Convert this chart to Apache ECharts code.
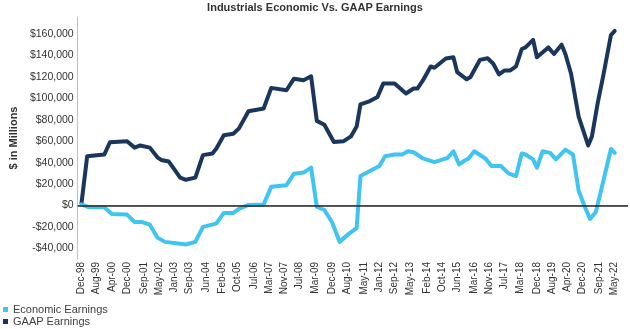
<!DOCTYPE html>
<html>
<head>
<meta charset="utf-8">
<script src="https://cdn.jsdelivr.net/npm/echarts@6/dist/echarts.min.js"></script>
<style>
  html, body { margin: 0; padding: 0; background: #fff; }
  #chart { width: 630px; height: 329px; }
</style>
</head>
<body>
<div id="chart"></div>
<script>
// Month range of the category axis (a little padding on both ends)
const axisStart = { year: 1998, month: 9 };   // Oct-98
const axisEnd = { year: 2022, month: 11 };    // Dec-22

// Labels shown along the x axis
const tickLabels = ['Dec-98', 'Aug-99', 'Apr-00', 'Dec-00', 'Sep-01', 'May-02', 'Jan-03', 'Sep-03',
  'Jun-04', 'Feb-05', 'Oct-05', 'Jul-06', 'Mar-07', 'Nov-07', 'Jul-08', 'Mar-09', 'Dec-09',
  'Aug-10', 'May-11', 'Jan-12', 'Sep-12', 'May-13', 'Feb-14', 'Oct-14', 'Jun-15', 'Mar-16',
  'Nov-16', 'Jul-17', 'Mar-18', 'Dec-18', 'Aug-19', 'Apr-20', 'Dec-20', 'Sep-21', 'May-22'];

// y-axis labels ($ in millions)
const yTicks = [-40000, -20000, 0, 20000, 40000, 60000, 80000, 100000, 120000, 140000, 160000];

// GAAP earnings ($M)
const gaapDates = ['Dec-98', 'Mar-99', 'Dec-99', 'Mar-00', 'Dec-00', 'Apr-01', 'Jul-01', 'Dec-01',
  'Apr-02', 'Jun-02', 'Oct-02', 'Dec-02', 'Apr-03', 'Jul-03', 'Dec-03', 'Apr-04', 'Sep-04',
  'Nov-04', 'Mar-05', 'Aug-05', 'Nov-05', 'Apr-06', 'Dec-06', 'Apr-07', 'Dec-07', 'Apr-08',
  'Sep-08', 'Jan-09', 'Apr-09', 'Aug-09', 'Jan-10', 'Jun-10', 'Oct-10', 'Jan-11', 'Mar-11',
  'Aug-11', 'Dec-11', 'Mar-12', 'Sep-12', 'Mar-13', 'Jul-13', 'Sep-13', 'Dec-13', 'Apr-14',
  'Jun-14', 'Dec-14', 'Apr-15', 'Jun-15', 'Nov-15', 'Jan-16', 'Jun-16', 'Oct-16', 'Jan-17',
  'Apr-17', 'Jul-17', 'Oct-17', 'Jan-18', 'Apr-18', 'Jun-18', 'Oct-18', 'Dec-18', 'Jun-19',
  'Sep-19', 'Jan-20', 'Mar-20', 'Jun-20', 'Oct-20', 'Mar-21', 'May-21', 'Aug-21', 'Nov-21',
  'Mar-22', 'May-22'];
const gaapValues = [2000, 46000, 47500, 59000, 60000, 54000, 56000, 54000,
  45000, 42500, 41000, 36000, 26000, 24000, 26000, 47000, 48500,
  53000, 65500, 67000, 72000, 88000, 90500, 109800, 107600, 118400,
  117000, 120600, 79000, 75300, 59300, 59900, 64500, 73700, 94400,
  97500, 101400, 113800, 113800, 104600, 109200, 109200, 117000, 129800,
  128600, 137200, 138400, 124500, 117800, 120000, 136000, 137500, 132300,
  122400, 126100, 126100, 129800, 146100, 147600, 154700, 138400, 147600,
  141500, 150100, 141500, 123000, 83000, 56000, 64500, 95300, 121500,
  159100, 163000];

// Economic earnings ($M)
const econDates = ['Dec-98', 'Apr-99', 'Dec-99', 'Apr-00', 'Dec-00', 'Apr-01', 'Aug-01', 'Dec-01',
  'Apr-02', 'Aug-02', 'Mar-03', 'Jul-03', 'Dec-03', 'Apr-04', 'Nov-04', 'Mar-05', 'Aug-05',
  'Nov-05', 'Apr-06', 'Dec-06', 'Apr-07', 'Dec-07', 'Apr-08', 'Sep-08', 'Jan-09', 'Apr-09',
  'Aug-09', 'Dec-09', 'Apr-10', 'Sep-10', 'Jan-11', 'Mar-11', 'Aug-11', 'Jan-12', 'Apr-12',
  'Sep-12', 'Jan-13', 'Apr-13', 'Jul-13', 'Dec-13', 'Jun-14', 'Jan-15', 'Apr-15', 'Jul-15',
  'Oct-15', 'Dec-15', 'Mar-16', 'Sep-16', 'Dec-16', 'May-17', 'Sep-17', 'Jan-18', 'Apr-18',
  'Jun-18', 'Oct-18', 'Dec-18', 'Mar-19', 'Jul-19', 'Oct-19', 'Mar-20', 'Jul-20', 'Oct-20',
  'Jan-21', 'Apr-21', 'Jul-21', 'Nov-21', 'Mar-22', 'May-22'];
const econValues = [1000, -1700, -1700, -8000, -8500, -15500, -15500, -18000,
  -30000, -34000, -35600, -36500, -34000, -20000, -17000, -7000, -7000,
  -3200, 500, 1000, 17400, 18900, 29700, 30700, 35300, -1100,
  -4200, -15500, -34000, -26300, -21100, 27500, 32100, 36800, 46000,
  47600, 47600, 50600, 49700, 43900, 40500, 44500, 50600, 38300,
  42000, 43900, 50600, 43600, 36800, 36800, 30000, 27500, 48500,
  47600, 43000, 35300, 50600, 49100, 43000, 52200, 47600, 13700,
  -200, -12500, -6300, 22900, 52800, 49100];

const MONTHS = ['Jan', 'Feb', 'Mar', 'Apr', 'May', 'Jun', 'Jul', 'Aug', 'Sep', 'Oct', 'Nov', 'Dec'];

function monthLabel(y, m) {
  return MONTHS[m] + '-' + String(y % 100).padStart(2, '0');
}

// Monthly categories for the x axis
const months = [];
for (let y = axisStart.year, m = axisStart.month; y < axisEnd.year || (y === axisEnd.year && m <= axisEnd.month); ) {
  months.push(monthLabel(y, m));
  m++;
  if (m > 11) { m = 0; y++; }
}

const tickSet = new Set(tickLabels);
const ySet = new Set(yTicks);

function fmtMoney(v) {
  const s = Math.abs(v).toLocaleString('en-US');
  return (v < 0 ? '-$' : '$') + s;
}

const FONT = 'Liberation Sans, Arial, sans-serif';

const legendBase = {
  orient: 'vertical',
  left: 3,
  itemWidth: 5,
  itemHeight: 5,
  icon: 'rect',
  padding: 0,
  textStyle: { fontFamily: FONT, fontSize: 11, color: '#404040' }
};

const chart = echarts.init(document.getElementById('chart'), null, { renderer: 'canvas' });

chart.setOption({
  animation: false,
  backgroundColor: '#ffffff',
  title: {
    text: 'Industrials Economic Vs. GAAP Earnings',
    left: 'center',
    top: 2,
    padding: 0,
    textStyle: { fontFamily: FONT, fontSize: 11, fontWeight: 'bold', color: '#333333' }
  },
  legend: [
    Object.assign({}, legendBase, { top: 304, data: ['Economic Earnings'] }),
    Object.assign({}, legendBase, { top: 316, data: ['GAAP Earnings'] })
  ],
  grid: { left: 61, right: 2, top: 17, bottom: 70, containLabel: false },
  xAxis: {
    type: 'category',
    data: months,
    boundaryGap: false,
    axisLine: { show: true, lineStyle: { color: '#bfbfbf', width: 1 } },
    axisTick: { show: false },
    splitLine: { show: false },
    axisLabel: {
      interval: (idx, val) => tickSet.has(val),
      rotate: 90,
      margin: 3,
      fontFamily: FONT,
      fontSize: 10,
      color: '#333333'
    }
  },
  yAxis: {
    type: 'value',
    min: -50000,
    max: 176000,
    interval: 2000,
    name: '$ in Millions',
    nameLocation: 'middle',
    nameGap: 52,
    nameTextStyle: { fontFamily: FONT, fontSize: 11, fontWeight: 'bold', color: '#333333' },
    axisLine: { show: true, lineStyle: { color: '#bfbfbf', width: 1 } },
    axisTick: { show: false },
    splitLine: { show: false },
    axisLabel: {
      margin: 4,
      fontFamily: FONT,
      fontSize: 10.5,
      color: '#333333',
      formatter: v => (ySet.has(v) ? fmtMoney(v) : '')
    }
  },
  series: [
    {
      name: 'Zero',
      type: 'line',
      data: [],
      silent: true,
      z: 1,
      markLine: {
        silent: true,
        symbol: 'none',
        label: { show: false },
        lineStyle: { color: '#262626', width: 1.5, type: 'solid' },
        data: [{ yAxis: 0 }]
      }
    },
    {
      name: 'Economic Earnings',
      type: 'line',
      z: 3,
      showSymbol: false,
      color: '#40c4f2',
      lineStyle: { color: '#40c4f2', width: 4, cap: 'round', join: 'round' },
      data: econDates.map((d, i) => [d, econValues[i]])
    },
    {
      name: 'GAAP Earnings',
      type: 'line',
      z: 2,
      showSymbol: false,
      color: '#1b365d',
      lineStyle: { color: '#1b365d', width: 4, cap: 'round', join: 'round' },
      data: gaapDates.map((d, i) => [d, gaapValues[i]])
    }
  ]
});
</script>
</body>
</html>
